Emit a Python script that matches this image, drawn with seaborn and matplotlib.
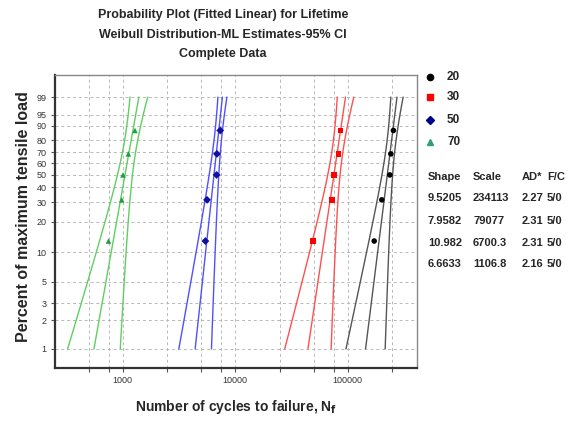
import numpy as np
import pandas as pd
import seaborn as sns
import matplotlib
matplotlib.use("Agg")
import matplotlib.pyplot as plt
from matplotlib.lines import Line2D

# groups (percent of maximum tensile load) and their Weibull ML fit
groups = ["20", "30", "50", "70"]
shape = [9.5205, 7.9582, 10.982, 6.6633]
scale = [234113, 79077, 6700.3, 1106.8]
ad = ["2.27", "2.31", "2.31", "2.16"]
fc = ["5/0", "5/0", "5/0", "5/0"]

# cycles to failure
cycles_20 = [172300, 201300, 237300, 242200, 255400]
cycles_30 = [48950, 72800, 75800, 83260, 86140]
cycles_50 = [5433, 5623, 6835, 6886, 7363]
cycles_70 = [747, 980, 1006, 1123, 1285]
ranks = [12.96, 31.48, 50.0, 68.52, 87.04]

colors = ["#000000", "#ff0000", "#1010a0", "#1e9e3c"]
line_colors = ["#555555", "#ff5050", "#5050ff", "#5fcf5f"]
markers = ["o", "s", "D", "^"]
legend_colors = ["#000000", "#ff0000", "#00008b", "#2e9e7e"]

y_ticks = [1, 2, 3, 5, 10, 20, 30, 40, 50, 60, 70, 80, 90, 95, 99]
x_grid = [500, 750, 1000, 2500, 5000, 7500, 10000, 25000, 50000, 75000, 100000, 250000]
x_labels = [1000, 10000, 100000]


def fwd(p):
    p = np.clip(np.asarray(p, dtype=float), 1e-9, 100 - 1e-9) / 100
    return np.log(-np.log(1 - p))


def inv(w):
    return 100 * (1 - np.exp(-np.exp(w)))


def fit_curves(t, beta, eta, w):
    # percentile line and 95% bounds from the observed Fisher information
    t = np.asarray(t, dtype=float)
    b, u = 1 / beta, np.log(eta)
    z = (np.log(t) - u) / b
    ez = np.exp(z)
    I = np.array([[ez.sum(), (ez - 1 + z * ez).sum()],
                  [(ez - 1 + z * ez).sum(), (-1 - 2 * z + 2 * z * ez + z * z * ez).sum()]]) / b**2
    cov = np.linalg.inv(I)
    yp = u + b * w
    sd = np.sqrt(cov[0, 0] + 2 * w * cov[0, 1] + w * w * cov[1, 1])
    return np.exp(yp), np.exp(yp - 1.96 * sd), np.exp(yp + 1.96 * sd)


sns.set_style("white")
plt.rcParams['font.family'] = ['Liberation Sans', 'DejaVu Sans']

fig = plt.figure(figsize=(5.8, 4.21), dpi=100)
ax = fig.add_axes([55 / 580, 1 - 368 / 421, 362 / 580, 293 / 421])
ax.set_xscale("log")
ax.set_yscale("function", functions=(fwd, inv))

w = np.linspace(fwd(1), fwd(99), 80)
pct = inv(w)
all_cycles = [cycles_20, cycles_30, cycles_50, cycles_70]

rows = []
for g, t in zip(groups, all_cycles):
    for ti, ri in zip(t, ranks):
        rows.append({"group": g, "cycles": ti, "percent": ri})
pts = pd.DataFrame(rows)

for i, g in enumerate(groups):
    mid, lo, hi = fit_curves(all_cycles[i], shape[i], scale[i], w)
    for curve in [lo, mid, hi]:
        d = pd.DataFrame({"cycles": curve, "percent": pct})
        sns.lineplot(data=d, x="cycles", y="percent", ax=ax, color=line_colors[i],
                     lw=1.0, estimator=None, sort=False)
    sns.scatterplot(data=pts[pts.group == g], x="cycles", y="percent", ax=ax,
                    color=colors[i], marker=markers[i], s=16, edgecolor="none", zorder=5)

ax.set_xlim(250, 414000)
ax.set_ylim(inv(-5.063), inv(2.064))
ax.set_yticks(y_ticks)
ax.set_yticklabels([str(v) for v in y_ticks])
ax.set_xticks(x_grid)
ax.set_xticklabels([str(v) if v in x_labels else "" for v in x_grid])
ax.xaxis.set_minor_locator(matplotlib.ticker.NullLocator())
ax.grid(True, color="#b8b8b8", ls=(0, (3, 3)), lw=0.7)
ax.tick_params(axis="both", labelsize=6.5, labelcolor="#333333", length=3,
               color="#555555", width=0.8, pad=3, bottom=True, left=True)
ax.set_xlabel("")
ax.set_ylabel("")
for s in ["left", "bottom"]:
    ax.spines[s].set_color("#333333")
    ax.spines[s].set_linewidth(1.6)
for s in ["top", "right"]:
    ax.spines[s].set_color("#888888")
    ax.spines[s].set_linewidth(1.0)

title_lines = ["Probability Plot (Fitted Linear) for Lifetime",
               "Weibull Distribution-ML Estimates-95% CI",
               "Complete Data"]
for ty, txt in zip([15, 35, 54], title_lines):
    fig.text(223 / 580, 1 - ty / 421, txt, ha="center", va="center",
             fontsize=9, fontweight="bold")
fig.text(24 / 580, 1 - 217 / 421, "Percent of maximum tensile load", rotation=90,
         ha="center", va="center", fontsize=11.5, fontweight="bold")
fig.text(236 / 580, 1 - 407 / 421, "Number of cycles to failure, N$_\\mathbf{f}$",
         ha="center", va="center", fontsize=10, fontweight="bold")

# legend
leg_y = [77, 97, 120, 142]
for i, g in enumerate(groups):
    fig.add_artist(Line2D([430 / 580], [1 - leg_y[i] / 421], transform=fig.transFigure,
                          marker=markers[i], color=legend_colors[i], ms=4.5, ls="none"))
    fig.text(447 / 580, 1 - leg_y[i] / 421, g, ha="left", va="center",
             fontsize=8.5, fontweight="bold")

# statistics table
col_x = [428, 473, 522, 547]
table = [["Shape", "Scale", "AD*", "F/C"]]
for i in range(4):
    table.append([f"{shape[i]:.5g}" if shape[i] >= 10 else f"{shape[i]:.4f}",
                  f"{scale[i]:g}", ad[i], fc[i]])
row_y = [177, 198, 221, 243, 264]
for ry, row in zip(row_y, table):
    for cx, txt in zip(col_x, row):
        fig.text(cx / 580, 1 - ry / 421, txt, ha="left", va="center",
                 fontsize=8, fontweight="bold")

fig.savefig("out.png", dpi=100)
